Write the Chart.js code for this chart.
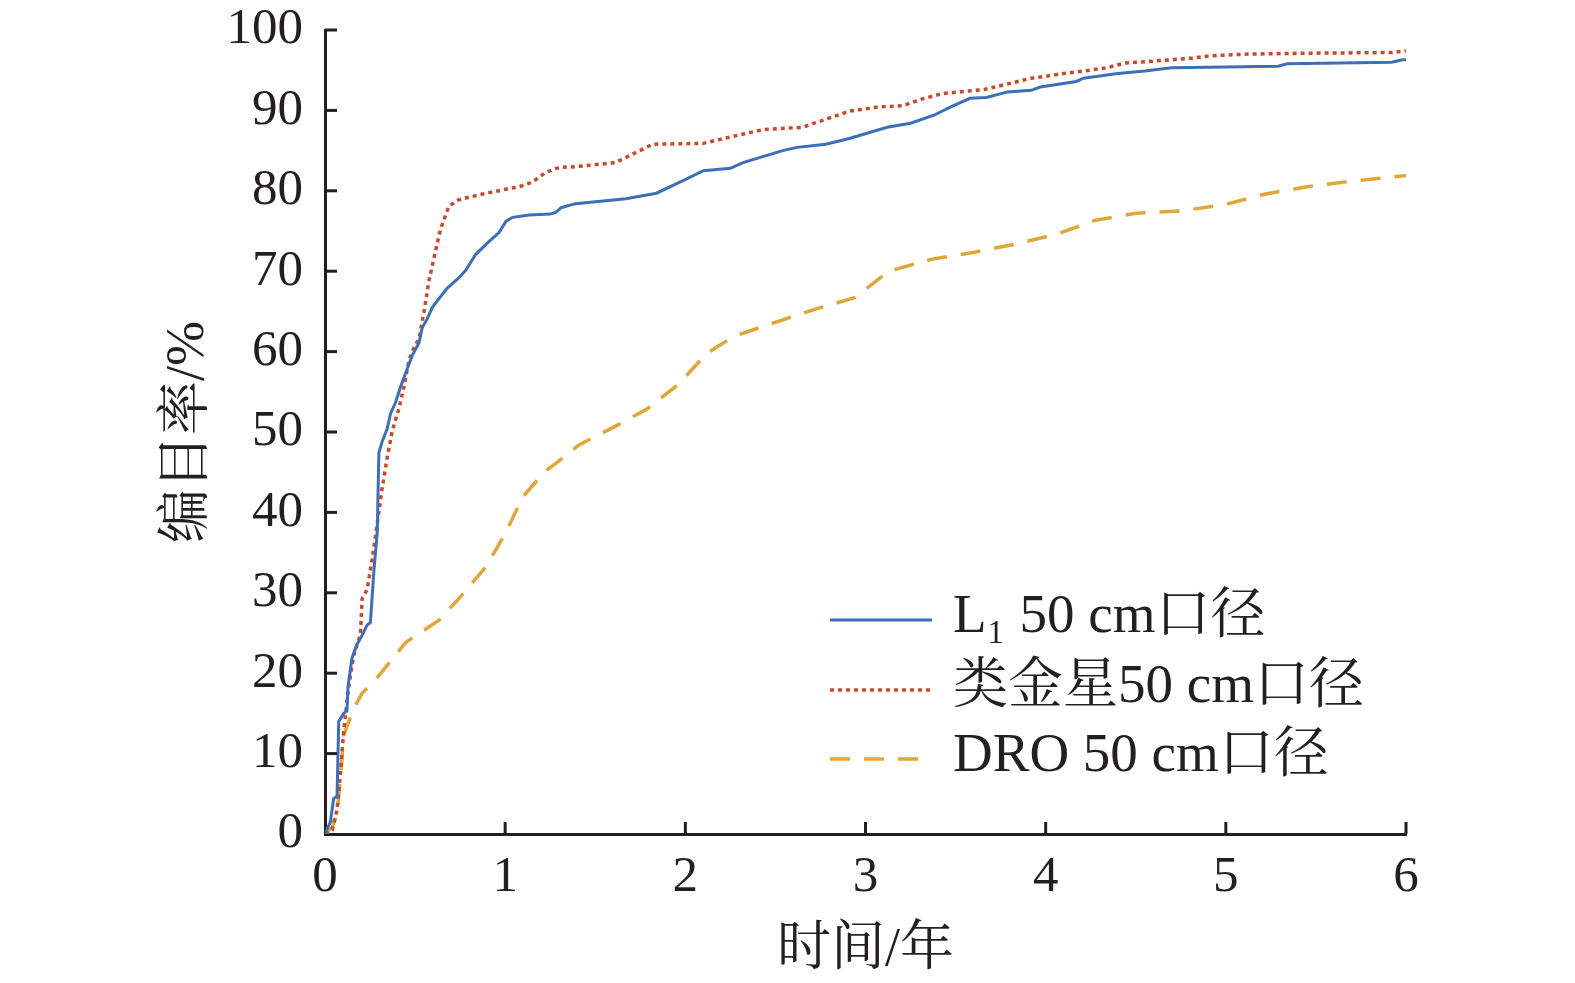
<!DOCTYPE html>
<html>
<head>
<meta charset="utf-8">
<script src="https://cdn.jsdelivr.net/npm/chart.js@4.4.1/dist/chart.umd.min.js"></script>
<style>
html,body{margin:0;padding:0;background:#fff;}
#wrap{width:1575px;height:983px;position:relative;}
</style>
</head>
<body>
<div id="wrap"><canvas id="c" width="1575" height="983"></canvas></div>
<script>
// ---- data ----
const seriesLabels = ["L\u2081 50 cm口径", "类金星50 cm口径", "DRO 50 cm口径"];
const xTitle = "时间/年";
const yTitle = "编目率/%";

const timeL1 = [0,0.03,0.048,0.067,0.076,0.104,0.122,0.128,0.15,0.178,0.206,0.234,0.252,0.271,0.29,0.299,0.317,0.345,0.364,0.392,0.419,0.447,0.484,0.522,0.54,0.568,0.596,0.633,0.679,0.735,0.781,0.837,0.911,0.966,1.004,1.041,1.133,1.25,1.28,1.31,1.39,1.67,1.84,1.99,2.10,2.25,2.32,2.54,2.62,2.78,2.91,3.12,3.25,3.38,3.47,3.58,3.67,3.79,3.92,3.97,4.17,4.21,4.40,4.55,4.70,5.29,5.34,5.92,5.98,6.0];
const rateL1 = [0,1.5,4.4,4.7,14,15,15.3,18.4,21.9,23.6,24.7,26,26.3,32.6,37.5,47.4,48.8,50.4,52.3,53.7,55.6,57.3,59.5,61.1,63,64.1,65.5,66.6,67.9,69,70.1,72.1,73.7,74.8,76.2,76.7,77,77.1,77.3,77.9,78.4,79.0,79.7,81.3,82.5,82.8,83.5,85,85.4,85.8,86.5,87.9,88.4,89.4,90.4,91.5,91.6,92.3,92.5,92.9,93.6,94.0,94.6,94.9,95.3,95.5,95.8,96.0,96.3,96.3];

const timeVenus = [0,0.04,0.067,0.085,0.104,0.132,0.159,0.197,0.206,0.234,0.262,0.29,0.317,0.345,0.373,0.41,0.438,0.466,0.494,0.522,0.549,0.577,0.614,0.642,0.688,0.744,0.855,1.004,1.078,1.152,1.226,1.30,1.39,1.61,1.82,2.10,2.25,2.43,2.65,2.78,2.91,3.06,3.21,3.31,3.43,3.66,3.79,3.92,3.99,4.10,4.21,4.34,4.44,4.58,4.81,4.92,5.12,5.40,5.92,6.0];
const rateVenus = [0,0.5,3,7.4,12.9,18.4,22.2,24.9,29.3,30.4,34.2,38.6,43,46.8,50.1,52.9,55.6,58.9,60.5,61.6,64.9,68.8,72.6,75.3,78.1,78.9,79.5,80.2,80.5,81.1,82.3,82.9,83.0,83.5,85.8,85.9,86.7,87.6,87.9,88.9,89.9,90.4,90.6,91.4,92.1,92.6,93.3,94.0,94.2,94.6,94.9,95.3,95.9,96.1,96.5,96.8,97.0,97.1,97.2,97.4];

const timeDRO = [0,0.039,0.067,0.085,0.104,0.122,0.159,0.206,0.299,0.447,0.633,0.744,0.892,1.004,1.096,1.226,1.27,1.41,1.61,1.79,1.96,2.12,2.27,2.52,2.74,2.94,3.13,3.37,3.59,3.84,4.06,4.27,4.5,4.75,5.0,5.22,5.45,5.7,6.0];
const rateDRO = [0,0.8,2.5,6.8,12.3,13.4,15.6,17.5,19.7,23.8,26.6,29.3,33.2,37.5,41.9,45.2,45.9,48.4,50.7,52.9,55.9,59.8,61.9,63.8,65.4,66.7,70,71.5,72.3,73.4,74.6,76.3,77.2,77.5,78.3,79.6,80.5,81.2,81.9];

const xTicks = [0,1,2,3,4,5,6];
const yTicks = [0,10,20,30,40,50,60,70,80,90,100];

// ---- styles ----
const INK = '#231f20';
const FONT = '"Liberation Serif", "Noto Serif CJK SC", "Noto Sans CJK SC", serif';
const colors = ['#3c6fb7', '#c84a2c', '#e0a638'];
const dashes = [[], [4, 4], [20, 14]];

function pts(xs, ys) { return xs.map((x, i) => ({x: x, y: ys[i]})); }

const datasets = [
  {label: seriesLabels[0], data: pts(timeL1, rateL1)},
  {label: seriesLabels[1], data: pts(timeVenus, rateVenus)},
  {label: seriesLabels[2], data: pts(timeDRO, rateDRO)}
].map((d, i) => Object.assign(d, {
  borderColor: colors[i], backgroundColor: colors[i],
  borderWidth: i === 0 ? 3 : 3.5, borderDash: dashes[i],
  pointRadius: 0, tension: 0, fill: false
}));

// inward tick marks + custom legend
const decor = {
  id: 'decor',
  afterDraw(chart) {
    const ctx = chart.ctx;
    const xs = chart.scales.x, ys = chart.scales.y;
    const a = chart.chartArea;
    ctx.save();
    ctx.strokeStyle = INK;
    ctx.lineWidth = 3;
    xTicks.forEach(v => {
      const p = xs.getPixelForValue(v);
      if (v === 0) return;
      ctx.beginPath(); ctx.moveTo(p, a.bottom); ctx.lineTo(p, a.bottom - 12); ctx.stroke();
    });
    yTicks.forEach(v => {
      const p = ys.getPixelForValue(v);
      if (v === 0) return;
      ctx.beginPath(); ctx.moveTo(a.left, p); ctx.lineTo(a.left + 12, p); ctx.stroke();
    });
    // legend
    const rowY = [620, 690, 759];
    chart.data.datasets.forEach((ds, i) => {
      const y = rowY[i];
      ctx.save();
      ctx.strokeStyle = ds.borderColor;
      ctx.lineWidth = ds.borderWidth;
      ctx.setLineDash(ds.borderDash);
      ctx.beginPath(); ctx.moveTo(830, y); ctx.lineTo(932, y); ctx.stroke();
      ctx.restore();
      ctx.fillStyle = INK;
      ctx.font = '55px ' + FONT;
      ctx.textBaseline = 'middle';
      ctx.textAlign = 'left';
      ctx.fillText(ds.label, 953, y - 2);
    });
    ctx.restore();
  }
};

new Chart(document.getElementById('c'), {
  type: 'line',
  data: {datasets: datasets},
  options: {
    responsive: false,
    animation: false,
    devicePixelRatio: 1,
    layout: {padding: {top: 30, right: 169, left: 0, bottom: 0}},
    plugins: {legend: {display: false}, tooltip: {enabled: false}},
    scales: {
      x: {
        type: 'linear', min: 0, max: 6,
        afterBuildTicks: s => { s.ticks = xTicks.map(v => ({value: v})); },
        afterFit: s => { s.height = 149; s.paddingLeft = 0; s.paddingRight = 0; },
        grid: {display: false, drawTicks: false},
        border: {display: true, color: INK, width: 3},
        ticks: {color: INK, padding: 13, maxRotation: 0, font: {family: FONT, size: 51}},
        title: {display: true, text: xTitle, color: INK, padding: {top: 0, bottom: 0}, font: {family: FONT, size: 54}}
      },
      y: {
        type: 'linear', min: 0, max: 100,
        afterBuildTicks: s => { s.ticks = yTicks.map(v => ({value: v})); },
        afterFit: s => { s.width = 325; s.paddingTop = 0; s.paddingBottom = 0; },
        grid: {display: false, drawTicks: false},
        border: {display: true, color: INK, width: 3},
        ticks: {color: INK, padding: 22, font: {family: FONT, size: 51}},
        title: {display: true, text: yTitle, color: INK, padding: {top: 156, bottom: 0}, font: {family: FONT, size: 54}}
      }
    }
  },
  plugins: [decor]
});
</script>
</body>
</html>
